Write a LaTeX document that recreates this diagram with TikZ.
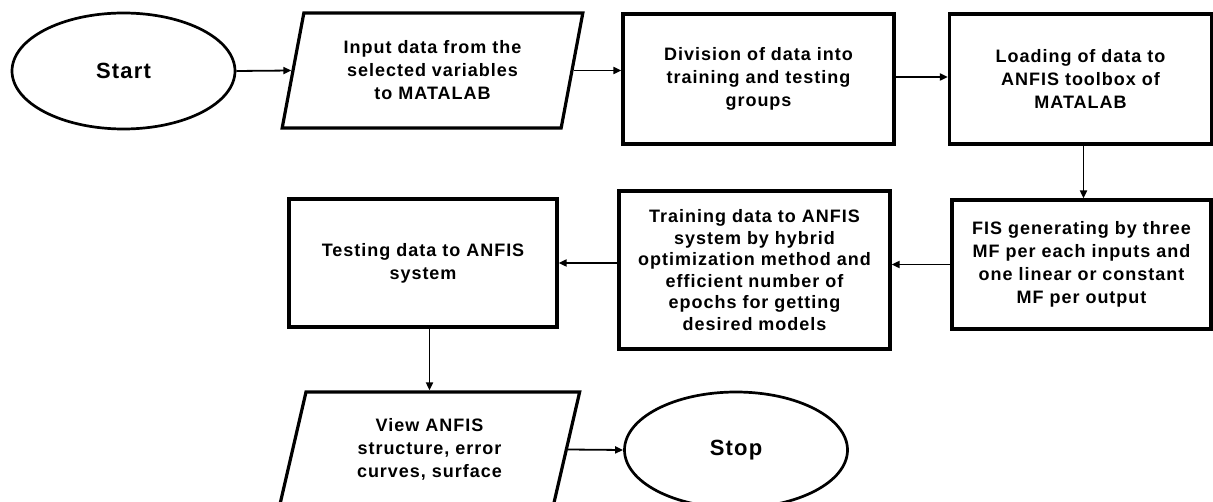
\documentclass[tikz,border=0pt]{standalone}
\usepackage{fontspec}
\setmainfont{Liberation Sans}[LetterSpace=5.5]
\usetikzlibrary{arrows.meta,shapes.geometric}
\tikzset{
  every node/.style={font=\bfseries\fontsize{18}{23}\selectfont, align=center, inner sep=0pt},
  box/.style={draw, line width=3.2pt, rectangle},
  io/.style={draw, line width=3.2pt, trapezium, trapezium left angle=75.8,
    trapezium right angle=104.2, trapezium stretches=true,
    minimum width=301pt, minimum height=115pt},
  term/.style={draw, line width=2.7pt, ellipse, minimum width=223pt, minimum height=116pt,
    font=\bfseries\fontsize{22}{26}\selectfont},
  arr/.style={-{Triangle[length=8pt,width=7pt]}, line width=1.8pt},
}
\begin{document}
\begin{tikzpicture}[x=1pt, y=-1pt]
\useasboundingbox[fill=white] (0,0) rectangle (1213,502);

% top row
\node[term] (start) at (123.5,71) {Start};
\node[io] (input) at (432.5,70.5) {Input data from the\\selected variables\\to MATALAB};
\node[box, minimum width=271pt, minimum height=130pt] (div) at (758.5,79)
  {Division of data into\\training and testing\\groups};
\node[box, minimum width=262pt, minimum height=130pt] (load) at (1080.5,79)
  {Loading of data to\\ANFIS toolbox of\\MATALAB};

% middle row
\node[box, minimum width=259pt, minimum height=129pt] (fis) at (1081.5,264.5)
  {FIS generating by three\\MF per each inputs and\\one linear or constant\\MF per output};
\node[box, minimum width=271pt, minimum height=158pt,
  font=\bfseries\fontsize{18}{21.5}\selectfont] (train) at (754.5,270)
  {Training data to ANFIS\\system by hybrid\\optimization method and\\efficient number of\\epochs for getting\\desired models};
\node[box, minimum width=268pt, minimum height=128pt] (test) at (423,263)
  {Testing data to ANFIS\\system};

% bottom row
\node[io] (view) at (429.5,449.5) {View ANFIS\\structure, error\\curves, surface};
\node[term] (stop) at (736,450) {Stop};

% connectors
\draw[arr] (start.east) -- (input.west);
\draw[arr] (input.east) -- (input.east -| div.west);
\draw[arr] ([yshift=2pt]div.east) -- ([yshift=2pt]load.west);
\draw[arr] ([xshift=3pt]load.south) -- ([xshift=3pt]load.south |- fis.north);
\draw[arr] (fis.west) -- (fis.west -| train.east);
\draw[arr] (test.east -| train.west) -- (test.east);
\draw[arr] (test.south -| view.north) -- (view.north);
\draw[arr] (view.east) -- (stop.west);
\end{tikzpicture}
\end{document}
